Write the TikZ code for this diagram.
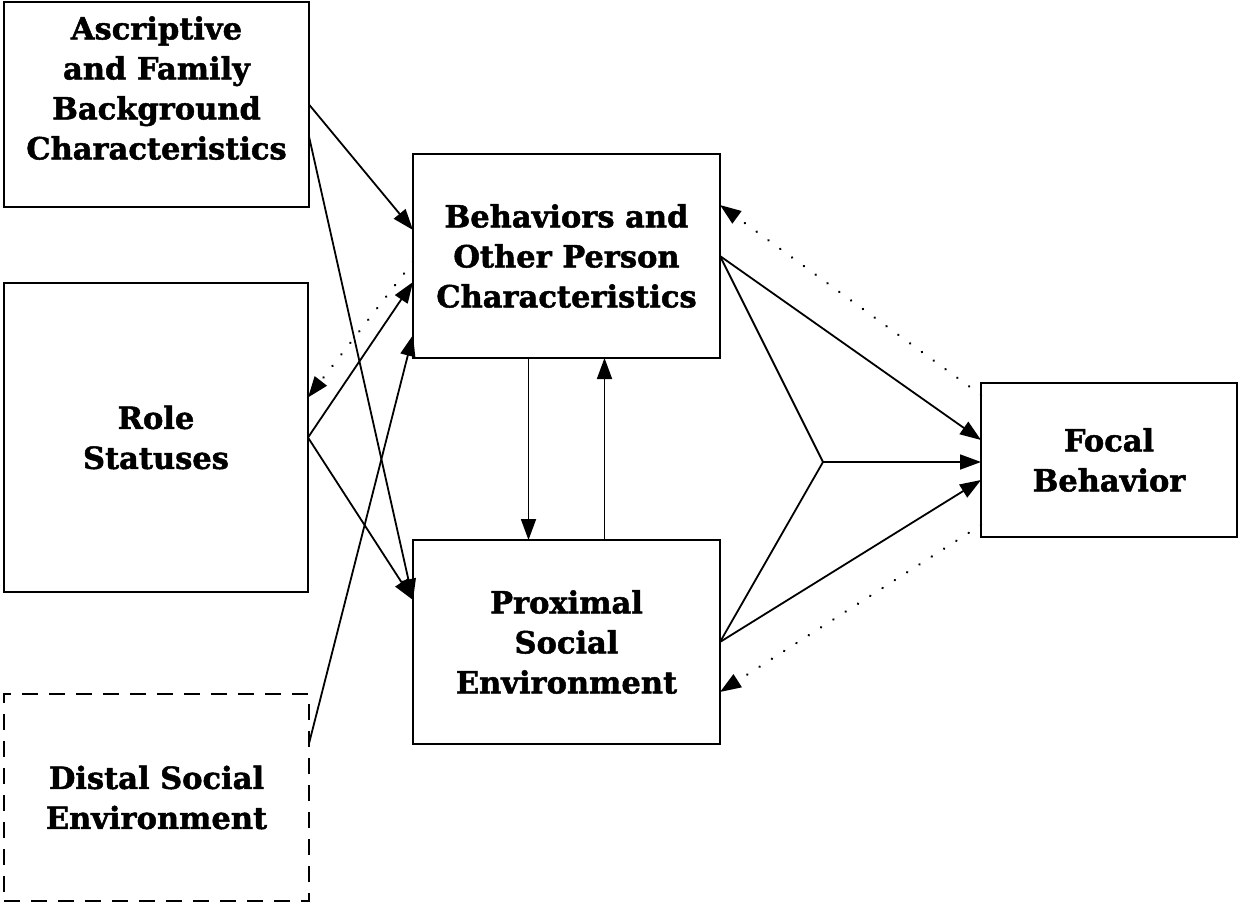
\documentclass[tikz,border=0pt]{standalone}
\usepackage{fontspec}
\setmainfont{DejaVu Serif}[BoldFeatures={FakeBold=1.6}]
\usetikzlibrary{arrows.meta,calc}
\tikzset{
  box/.style={draw, line width=2pt, inner sep=0pt, outer sep=0pt, align=center,
    font=\fontsize{30.5}{40}\selectfont\bfseries},
  txt/.style={inner sep=0pt, align=center, font=\fontsize{30.5}{40}\selectfont\bfseries},
  conn/.style={line width=1.8pt, -{Triangle[length=21pt,width=15pt]}},
  plain/.style={line width=1.8pt},
  dotconn/.style={line width=2.6pt, dash pattern=on 0.1pt off 14.5pt, line cap=round,
    -{Triangle[length=21pt,width=15pt]}},
}
\begin{document}
\begin{tikzpicture}[x=1pt,y=-1pt]
\useasboundingbox (0,0) rectangle (1240,903);
% boxes
\node[box, minimum width=305pt, minimum height=205pt] (asc) at (156.5,104.5) {};
\node[txt] (asctxt) at (156.5,88) {Ascriptive\\and Family\\Background\\Characteristics};
\node[box, minimum width=304pt, minimum height=309pt] (role) at (156,437.5) {Role\\Statuses};
\node[box, dash pattern=on 16pt off 11pt, minimum width=305pt, minimum height=207pt] (distal) at (156.5,797.5) {Distal Social\\Environment};
\node[box, minimum width=307pt, minimum height=204pt] (beh) at (566.5,256) {Behaviors and\\Other Person\\Characteristics};
\node[box, minimum width=307pt, minimum height=204pt] (prox) at (566.5,642) {Proximal\\Social\\Environment};
\node[box, minimum width=256pt, minimum height=154pt] (focal) at (1109,460) {Focal\\Behavior};
\coordinate (junc) at (823,462);
% left connectors
\draw[conn] (asc.east) -- ([yshift=26pt]beh.west);
\draw[conn] ([yshift=-32pt]asc.east) -- ([yshift=42pt]prox.west);
\draw[conn] (role.east) -- ([yshift=-26pt]beh.west);
\draw[conn] (role.east) -- ([yshift=42pt]prox.west);
\draw[dotconn] ([yshift=-6pt]beh.west) -- ([yshift=40pt]role.east);
\draw[conn] ([yshift=54pt]distal.east) -- ([yshift=-79pt]beh.west);
% vertical
\draw[conn] ([xshift=-38pt]beh.south) -- ([xshift=-38pt]prox.north);
\draw[conn] ([xshift=38pt]prox.north) -- ([xshift=38pt]beh.south);
% right connectors
\draw[conn] (beh.east) -- ([yshift=20pt]focal.west);
\draw[plain] (beh.east) -- (junc);
\draw[plain] (prox.east) -- (junc);
\draw[conn] (junc) -- ([yshift=-2pt]focal.west);
\draw[conn] (prox.east) -- ([yshift=-20pt]focal.west);
\draw[dotconn] ([yshift=65pt]focal.west) -- ([yshift=51pt]beh.east);
\draw[dotconn] ([yshift=-65pt]focal.west) -- ([yshift=-50pt]prox.east);
\end{tikzpicture}
\end{document}
